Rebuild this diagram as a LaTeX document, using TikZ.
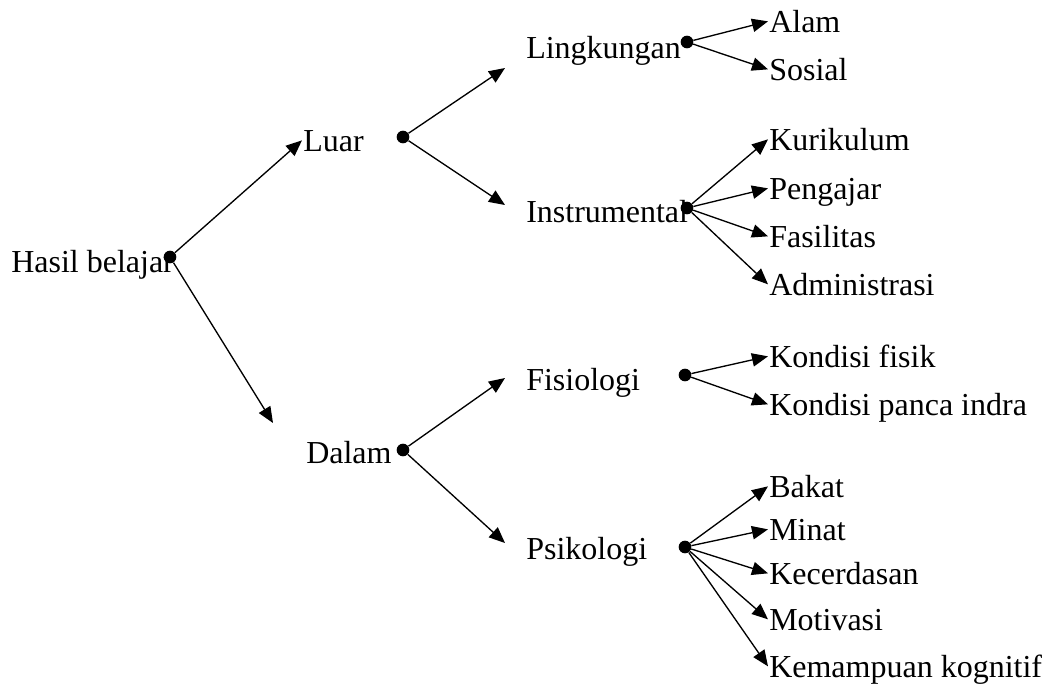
\documentclass[tikz,border=0pt]{standalone}
\usepackage{fontspec}
\setmainfont{Liberation Serif}
\usetikzlibrary{arrows.meta, positioning}

\begin{document}
\begin{tikzpicture}[x=0.75pt,y=0.75pt,yscale=-1,xscale=1,
  lbl/.style={anchor=base west,inner sep=0.75pt,font=\fontsize{24}{28}\selectfont,text height=16pt,text depth=0pt},
  dot/.style={circle,fill=black,inner sep=0pt,minimum size=9.5pt},
  arr/.style={-{Triangle[length=12pt,width=10pt]},line width=1pt}]
%set diagram left start at 0, and has height of 683
\useasboundingbox (0,0) rectangle (1043,683);

% Text Node
\node [lbl] (hasil) at (10,272) {Hasil belajar};
% Text Node
\node [lbl] (luar) at (302,151) {Luar};
% Text Node
\node [lbl] (dalam) at (305,463) {Dalam};
% Text Node
\node [lbl] (ling) at (525,58) {Lingkungan};
% Text Node
\node [lbl] (inst) at (525,222) {Instrumental};
% Text Node
\node [lbl] (fis) at (525,390) {Fisiologi};
% Text Node
\node [lbl] (psi) at (525,559) {Psikologi};
% Text Node
\node [lbl] (alam) at (768,32) {Alam};
\node [lbl] (sosial) at (768,80) {Sosial};
% Text Node
\node [lbl] (kuri) at (768,150) {Kurikulum};
\node [lbl] (peng) at (768,199) {Pengajar};
\node [lbl] (fasi) at (768,247) {Fasilitas};
\node [lbl] (admi) at (768,295) {Administrasi};
% Text Node
\node [lbl] (kfis) at (768,367) {Kondisi fisik};
\node [lbl] (kpan) at (768,415) {Kondisi panca indra};
% Text Node
\node [lbl] (baka) at (768,497) {Bakat};
\node [lbl] (mina) at (768,540) {Minat};
\node [lbl] (kece) at (768,584) {Kecerdasan};
\node [lbl] (moti) at (768,630) {Motivasi};
\node [lbl] (kema) at (768,677) {Kemampuan kognitif};

%Dots
\node [dot] (dhasil) at (170,257) {};
\node [dot] (dluar) at (403,137) {};
\node [dot] (ddalam) at (403,450) {};
\node [dot] (dling) at (687,42) {};
\node [dot] (dinst) at (687,208) {};
\node [dot] (dfis) at (685,375) {};
\node [dot] (dpsi) at (685,547) {};

%Arrow ends
\coordinate (tdalam) at (273,423);
\coordinate (tling) at (505,68);
\coordinate (tinst) at (505,205);
\coordinate (tfis) at (505,378);
\coordinate (tpsi) at (505,543);

%Straight Lines
\draw [arr] (dhasil) -- (luar.west);
\draw [arr] (dhasil) -- (tdalam);
%Straight Lines
\draw [arr] (dluar) -- (tling);
\draw [arr] (dluar) -- (tinst);
\draw [arr] (ddalam) -- (tfis);
\draw [arr] (ddalam) -- (tpsi);
%Straight Lines
\draw [arr] (dling) -- (alam.west);
\draw [arr] (dling) -- (sosial.west);
\draw [arr] (dinst) -- (kuri.west);
\draw [arr] (dinst) -- (peng.west);
\draw [arr] (dinst) -- (fasi.west);
\draw [arr] (dinst) -- (admi.west);
%Straight Lines
\draw [arr] (dfis) -- (kfis.west);
\draw [arr] (dfis) -- (kpan.west);
\draw [arr] (dpsi) -- (baka.west);
\draw [arr] (dpsi) -- (mina.west);
\draw [arr] (dpsi) -- (kece.west);
\draw [arr] (dpsi) -- (moti.west);
\draw [arr] (dpsi) -- (kema.west);

\end{tikzpicture}
\end{document}
